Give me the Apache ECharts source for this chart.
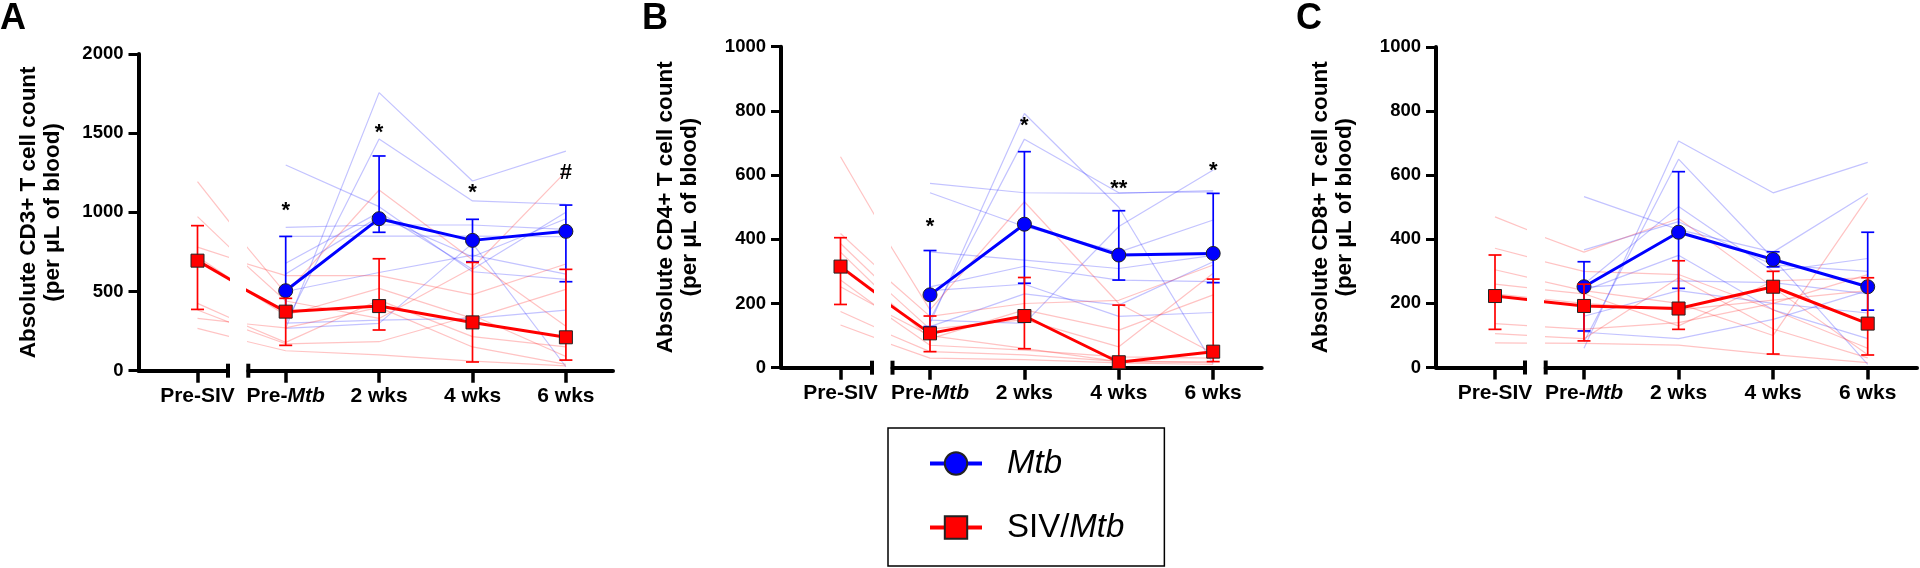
<!DOCTYPE html>
<html><head><meta charset="utf-8">
<script src="https://cdn.jsdelivr.net/npm/echarts@6/dist/echarts.min.js"></script>
<style>html,body{margin:0;padding:0;background:#fff}#c{width:1920px;height:568px}</style>
</head><body><div id="c"></div>
<script>
// ---------------- DATA ----------------
const timeLabels = ['Pre-SIV', 'Pre-Mtb', '2 wks', '4 wks', '6 wks'];
const panelLetters = ['A', 'B', 'C'];
const yTitles = ['Absolute CD3+ T cell count', 'Absolute CD4+ T cell count', 'Absolute CD8+ T cell count'];
const yTitleSub = '(per μL of blood)';
const yMaxes = [2000, 1000, 1000];
const ySteps = [500, 200, 200];

// Panel A (CD3)
const cd3MtbMean = [null, 505, 960, 823, 880];
const cd3MtbLow  = [null, 385, 874, 688, 562];
const cd3MtbHigh = [null, 848, 1356, 956, 1046];
const cd3SivMean = [695, 373, 408, 305, 211];
const cd3SivLow  = [387, 160, 257, 55, 67];
const cd3SivHigh = [916, 457, 707, 684, 640];
const cd3MtbAnimals = [
  [null, 267, 1756, 1198, 1387],
  [null, 300, 1463, 1072, 1051],
  [null, 1299, 1036, 625, 577],
  [null, 905, 920, 920, 893],
  [null, 848, 850, 850, 846],
  [null, 678, 1000, 640, 1000],
  [null, 610, 973, 720, 960],
  [null, 500, 620, 730, 610],
  [null, 267, 299, 804, 25],
  [null, 300, 320, 330, 383]
];
const cd3SivAnimals = [
  [1194, 488, 1141, 700, 280],
  [973, 440, 330, 650, 1257],
  [780, 600, 600, 480, 674],
  [720, 350, 520, 330, 514],
  [425, 179, 446, 215, 150],
  [383, 170, 183, 350, 90],
  [330, 270, 400, 150, 40],
  [267, 126, 100, 60, 30]
];
const cd3MarkText = ['*', '*', '*', '#'];
const cd3MarkHeight = [1032, 1524, 1147, 1272];

// Panel B (CD4)
const cd4MtbMean = [null, 227, 447, 351, 356];
const cd4MtbLow  = [null, 128, 263, 273, 265];
const cd4MtbHigh = [null, 365, 673, 489, 543];
const cd4SivMean = [315, 107, 161, 17, 50];
const cd4SivLow  = [197, 50, 59, 0, 19];
const cd4SivHigh = [405, 161, 281, 195, 276];
const cd4MtbAnimals = [
  [null, 138, 792, 500, 12],
  [null, 150, 712, 545, 548],
  [null, 574, 545, 543, 552],
  [null, 545, 440, 360, 460],
  [null, 361, 335, 309, 350],
  [null, 252, 316, 273, 268],
  [null, 148, 138, 440, 616],
  [null, 128, 230, 195, 330],
  [null, 240, 260, 160, 172]
];
const cd4SivAnimals = [
  [657, 180, 517, 200, 45],
  [418, 160, 200, 210, 320],
  [387, 120, 150, 65, 294],
  [360, 90, 180, 117, 227],
  [273, 70, 55, 34, 30],
  [252, 100, 60, 19, 19],
  [175, 50, 40, 20, 15],
  [133, 30, 25, 15, 10]
];
const cd4MarkText = ['*', '*', '**', '*'];
const cd4MarkHeight = [450, 767, 569, 626];

// Panel C (CD8)
const cd8MtbMean = [null, 252, 422, 337, 252];
const cd8MtbLow  = [null, 114, 247, 314, 179];
const cd8MtbHigh = [null, 330, 611, 361, 422];
const cd8SivMean = [223, 192, 184, 252, 137];
const cd8SivLow  = [119, 83, 119, 42, 39];
const cd8SivHigh = [351, 260, 333, 300, 280];
const cd8MtbAnimals = [
  [null, 60, 707, 545, 640],
  [null, 80, 650, 340, 10],
  [null, 533, 430, 360, 543],
  [null, 367, 455, 320, 300],
  [null, 260, 502, 300, 340],
  [null, 250, 270, 265, 230],
  [null, 160, 240, 200, 170],
  [null, 110, 90, 150, 240],
  [null, 240, 350, 180, 90]
];
const cd8SivAnimals = [
  [470, 360, 465, 250, 40],
  [372, 300, 290, 180, 60],
  [305, 240, 200, 100, 530],
  [260, 230, 130, 270, 280],
  [230, 200, 180, 210, 240],
  [137, 120, 140, 200, 290],
  [106, 90, 280, 120, 30],
  [77, 75, 70, 40, 15]
];
const cd8MarkText = [];
const cd8MarkHeight = [];

// ---------------- LAYOUT (pixels) ----------------
const LAYOUT = [
  {axisX: 138.5, preSivX: 197.5, breakL: 228, breakR: 248.3, preMtbX: 285.7, unit: 93.4, endX: 613, top: 54, bottom: 370.7, nameGap: 74, letterX: 0},
  {axisX: 781, preSivX: 840.5, breakL: 872, breakR: 892.5, preMtbX: 930, unit: 94.4, endX: 1261.7, top: 46.7, bottom: 367.7, nameGap: 79, letterX: 642},
  {axisX: 1436, preSivX: 1495, breakL: 1525, breakR: 1545.7, preMtbX: 1584, unit: 94.57, endX: 1917, top: 47, bottom: 367.5, nameGap: 79, letterX: 1296}
];

const PANELS = [
  {mtbMean: cd3MtbMean, mtbLow: cd3MtbLow, mtbHigh: cd3MtbHigh, sivMean: cd3SivMean, sivLow: cd3SivLow, sivHigh: cd3SivHigh, mtbAnimals: cd3MtbAnimals, sivAnimals: cd3SivAnimals, markText: cd3MarkText, markHeight: cd3MarkHeight},
  {mtbMean: cd4MtbMean, mtbLow: cd4MtbLow, mtbHigh: cd4MtbHigh, sivMean: cd4SivMean, sivLow: cd4SivLow, sivHigh: cd4SivHigh, mtbAnimals: cd4MtbAnimals, sivAnimals: cd4SivAnimals, markText: cd4MarkText, markHeight: cd4MarkHeight},
  {mtbMean: cd8MtbMean, mtbLow: cd8MtbLow, mtbHigh: cd8MtbHigh, sivMean: cd8SivMean, sivLow: cd8SivLow, sivHigh: cd8SivHigh, mtbAnimals: cd8MtbAnimals, sivAnimals: cd8SivAnimals, markText: cd8MarkText, markHeight: cd8MarkHeight}
];

const FONT = 'Liberation Sans';
const BLUE = '#0000ff', RED = '#ff0000';
const BLUE_FAINT = 'rgba(40,40,255,0.28)', RED_FAINT = 'rgba(255,40,40,0.28)';

function pts(arr, from, to) {
  const out = [];
  for (let i = from; i <= to; i++) if (arr[i] != null) out.push([i, arr[i]]);
  return out;
}
function errData(mean, low, high, from, to) {
  const out = [];
  for (let i = from; i <= to; i++) if (mean[i] != null) out.push([i, low[i], high[i]]);
  return out;
}
function errRender(color) {
  return function (params, api) {
    const x = api.value(0);
    const pLo = api.coord([x, api.value(1)]);
    const pHi = api.coord([x, api.value(2)]);
    const hw = 6.5;
    const style = {stroke: color, lineWidth: 1.7, fill: null};
    return {type: 'group', children: [
      {type: 'line', shape: {x1: pLo[0], y1: pLo[1], x2: pHi[0], y2: pHi[1]}, style: style},
      {type: 'line', shape: {x1: pLo[0] - hw, y1: pLo[1], x2: pLo[0] + hw, y2: pLo[1]}, style: style},
      {type: 'line', shape: {x1: pHi[0] - hw, y1: pHi[1], x2: pHi[0] + hw, y2: pHi[1]}, style: style}
    ]};
  };
}
function markRender(texts) {
  return function (params, api) {
    const p = api.coord([api.value(0), api.value(1)]);
    return {type: 'text', x: p[0], y: p[1] + 4, style: {text: texts[params.dataIndex], fill: '#000', font: 'bold 22px "' + FONT + '"', align: 'center', verticalAlign: 'middle'}};
  };
}

const grids = [], xAxes = [], yAxes = [], series = [], titles = [];
const axisLineStyle = {color: '#000', width: 4};

PANELS.forEach(function (P, pi) {
  const L = LAYOUT[pi];
  const gl = 2 * pi, gr = 2 * pi + 1;
  const leftUnit = L.preMtbX - L.preSivX;
  const lMin = -(L.preSivX - L.axisX) / leftUnit;
  const lMax = (L.breakL - L.preSivX) / leftUnit;
  const rMin = 1 - (L.preMtbX - L.breakR) / L.unit;
  const rMax = 1 + (L.endX - L.preMtbX) / L.unit;
  L.lMax = lMax; L.rMin = rMin;
  const h = L.bottom - L.top;
  grids.push({left: L.axisX, top: L.top, width: L.breakL - L.axisX, height: h});
  grids.push({left: L.breakR, top: L.top, width: L.endX - L.breakR, height: h});

  const xLabel = {
    fontSize: 21, fontWeight: 'bold', fontFamily: FONT, color: '#000', margin: 15,
    formatter: function (v) { return v === 1 ? 'Pre-{i|Mtb}' : timeLabels[v]; },
    rich: {i: {fontSize: 21, fontWeight: 'bold', fontStyle: 'italic', fontFamily: FONT, color: '#000'}}
  };
  xAxes.push({gridIndex: gl, type: 'value', min: lMin, max: lMax, axisLine: {onZero: false, lineStyle: axisLineStyle},
    axisTick: {customValues: [0], length: 12, lineStyle: {color: '#000', width: 3.5}},
    axisLabel: Object.assign({customValues: [0]}, xLabel), splitLine: {show: false}});
  xAxes.push({gridIndex: gr, type: 'value', min: rMin, max: rMax, axisLine: {onZero: false, lineStyle: axisLineStyle},
    axisTick: {customValues: [1, 2, 3, 4], length: 12, lineStyle: {color: '#000', width: 3.5}},
    axisLabel: Object.assign({customValues: [1, 2, 3, 4]}, xLabel), splitLine: {show: false}});

  yAxes.push({gridIndex: gl, type: 'value', min: 0, max: yMaxes[pi], interval: ySteps[pi],
    axisLine: {show: true, onZero: false, lineStyle: axisLineStyle},
    axisTick: {show: true, length: 10, lineStyle: {color: '#000', width: 3}},
    axisLabel: {fontSize: 18.5, fontWeight: 'bold', fontFamily: FONT, color: '#000', margin: 15,
      formatter: function (v) { return String(v); }},
    splitLine: {show: false},
    name: yTitles[pi] + '\n' + yTitleSub, nameLocation: 'middle', nameGap: L.nameGap, nameRotate: 90,
    nameTextStyle: {fontSize: 22.5, fontWeight: 'bold', fontFamily: FONT, color: '#000', lineHeight: 24}});
  yAxes.push({gridIndex: gr, type: 'value', min: 0, max: yMaxes[pi], interval: ySteps[pi], show: false, splitLine: {show: false}});

  titles.push({text: panelLetters[pi], left: L.letterX, top: 1, padding: 0,
    textStyle: {fontSize: 36, fontWeight: 'bold', fontFamily: FONT, color: '#000'}});

  const faint = function (data, color, xi) {
    return {type: 'line', name: 'animal', xAxisIndex: xi, yAxisIndex: xi, data: data, symbol: 'none', clip: true, silent: true,
      lineStyle: {color: color, width: 1.2}, z: 1, animation: false};
  };
  P.sivAnimals.forEach(function (a) { series.push(faint(pts(a, 0, 1), RED_FAINT, gl)); });
  P.mtbAnimals.forEach(function (a) { series.push(faint(pts(a, 1, 4), BLUE_FAINT, gr)); });
  P.sivAnimals.forEach(function (a) { series.push(faint(pts(a, 0, 4), RED_FAINT, gr)); });

  series.push({type: 'custom', name: 'err', xAxisIndex: gr, yAxisIndex: gr, data: errData(P.mtbMean, P.mtbLow, P.mtbHigh, 1, 4),
    renderItem: errRender(BLUE), encode: {x: 0, y: [1, 2]}, silent: true, z: 3});
  series.push({type: 'line', name: 'Mtb', xAxisIndex: gr, yAxisIndex: gr, data: pts(P.mtbMean, 1, 4), clip: true,
    symbol: 'circle', symbolSize: 14, showSymbol: true, showAllSymbol: true,
    lineStyle: {color: BLUE, width: 3}, itemStyle: {color: BLUE, borderColor: '#222', borderWidth: 1}, z: 4});

  series.push({type: 'custom', name: 'err', xAxisIndex: gl, yAxisIndex: gl, data: errData(P.sivMean, P.sivLow, P.sivHigh, 0, 0),
    renderItem: errRender(RED), encode: {x: 0, y: [1, 2]}, silent: true, z: 5});
  series.push({type: 'line', name: 'SIV/Mtb', xAxisIndex: gl, yAxisIndex: gl, data: pts(P.sivMean, 0, 1), clip: true,
    symbol: 'rect', symbolSize: 13, showSymbol: true, showAllSymbol: true,
    lineStyle: {color: RED, width: 3}, itemStyle: {color: RED, borderColor: '#222', borderWidth: 1}, z: 6});
  series.push({type: 'custom', name: 'err', xAxisIndex: gr, yAxisIndex: gr, data: errData(P.sivMean, P.sivLow, P.sivHigh, 1, 4),
    renderItem: errRender(RED), encode: {x: 0, y: [1, 2]}, silent: true, z: 5});
  series.push({type: 'line', name: 'SIV/Mtb', xAxisIndex: gr, yAxisIndex: gr, data: pts(P.sivMean, 0, 4), clip: true,
    symbol: 'rect', symbolSize: 13, showSymbol: true, showAllSymbol: true,
    lineStyle: {color: RED, width: 3}, itemStyle: {color: RED, borderColor: '#222', borderWidth: 1}, z: 6});

  if (P.markText.length) {
    series.push({type: 'custom', name: 'marks', xAxisIndex: gr, yAxisIndex: gr,
      data: P.markHeight.map(function (v, i) { return [i + 1, v]; }),
      renderItem: markRender(P.markText), encode: {x: 0, y: 1}, silent: true, z: 7});
  }
});

const chart = echarts.init(document.getElementById('c'), null, {renderer: 'canvas'});
chart.setOption({
  animation: false,
  backgroundColor: '#fff',
  title: titles,
  grid: grids,
  xAxis: xAxes,
  yAxis: yAxes,
  legend: {
    data: ['Mtb', 'SIV/Mtb'], orient: 'vertical', left: 888, top: 428, height: 300, width: 400,
    padding: [19, 40, 22, 40], itemGap: 31, itemWidth: 52, itemHeight: 28,
    borderColor: '#000', borderWidth: 1.5, selectedMode: false,
    lineStyle: {width: 4},
    textStyle: {fontSize: 33, fontFamily: FONT, color: '#000', lineHeight: 28, padding: [0, 0, 0, 20],
      rich: {i: {fontStyle: 'italic', fontSize: 33, fontFamily: FONT, color: '#000', lineHeight: 28}}},
    formatter: function (n) { return n === 'Mtb' ? '{i|Mtb}' : 'SIV/{i|Mtb}'; }
  },
  series: series
});

// axis-break bars, placed through the library's own coordinate conversion
const breaks = [];
LAYOUT.forEach(function (L, pi) {
  const a = chart.convertToPixel({gridIndex: 2 * pi}, [L.lMax, 0]);
  const b = chart.convertToPixel({gridIndex: 2 * pi + 1}, [L.rMin, 0]);
  [a, b].forEach(function (p) {
    breaks.push({type: 'rect', shape: {x: p[0] - 2, y: p[1] - 7, width: 4, height: 14}, style: {fill: '#000'}, z: 10});
  });
});
chart.setOption({graphic: breaks});
</script></body></html>
